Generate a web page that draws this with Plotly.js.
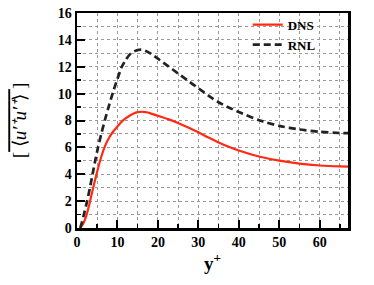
<!DOCTYPE html>
<html>
<head>
<meta charset="utf-8">
<script src="https://cdn.plot.ly/plotly-3.0.1.min.js"></script>
<style>html,body{margin:0;padding:0;background:#fff}#chart{width:374px;height:285px}</style>
</head>
<body>
<div id="chart"></div>
<script>
const dnsX = [0.8, 1.5, 2.3, 3, 4, 5, 6, 7, 8, 9, 10, 11, 12, 13, 14, 15, 16, 17, 18, 20, 22.5, 25, 27.5, 30, 32.5, 35, 37.5, 40, 45, 50, 55, 60, 65, 67];
const dnsY = [0, 0.3, 0.9, 1.7, 3.0, 4.2, 5.3, 6.15, 6.75, 7.2, 7.55, 7.9, 8.15, 8.35, 8.52, 8.62, 8.65, 8.62, 8.55, 8.35, 8.1, 7.82, 7.48, 7.12, 6.73, 6.37, 6.05, 5.77, 5.32, 5.01, 4.79, 4.65, 4.58, 4.57];
const rnlX = [0.8, 1.2, 1.7, 2.5, 3.2, 3.85, 4.5, 5.2, 6, 7, 8, 9, 10, 11, 12, 13, 14, 15, 16, 17, 18, 20, 22.5, 25, 27.5, 30, 32.5, 35, 37.5, 40, 45, 50, 55, 60, 65, 67];
const rnlY = [0, 0.4, 1, 2, 3, 4, 5, 6, 7, 8.15, 9.2, 10.2, 11.1, 11.95, 12.5, 12.9, 13.12, 13.25, 13.27, 13.18, 13.02, 12.6, 12.05, 11.5, 10.95, 10.4, 9.85, 9.36, 8.97, 8.63, 8.02, 7.6, 7.33, 7.16, 7.07, 7.06];
const seriesNames = ['DNS', 'RNL'];
const xTicks = [0, 10, 20, 30, 40, 50, 60];
const yTicks = [0, 2, 4, 6, 8, 10, 12, 14, 16];

const serif = '"Liberation Serif", "Times New Roman", serif';
const data = [
  {x: dnsX, y: dnsY, name: '<b>' + seriesNames[0] + '</b>', mode: 'lines', line: {color: '#ff2a12', width: 2.2, shape: 'spline', smoothing: 0.6}},
  {x: rnlX, y: rnlY, name: '<b>' + seriesNames[1] + '</b>', mode: 'lines', line: {color: '#222222', width: 2.7, dash: '7px,4px', shape: 'spline', smoothing: 0.6}}
];
const minorCommon = {ticks: 'inside', ticklen: 4, tickwidth: 1.5, tickcolor: '#000', showgrid: true, gridcolor: '#999', griddash: 'dot', gridwidth: 1};
const axisCommon = {
  showline: true, linecolor: '#000', linewidth: 2.5, mirror: true,
  ticks: 'inside', ticklen: 8, tickwidth: 2, tickcolor: '#000',
  showgrid: true, gridcolor: '#999', griddash: 'dot', gridwidth: 1,
  zeroline: false,
  tickfont: {family: serif, size: 14, color: '#000'}
};
const layout = {
  width: 374, height: 285,
  margin: {l: 77, r: 26, t: 10, b: 57},
  paper_bgcolor: '#fff', plot_bgcolor: '#fff',
  font: {family: serif},
  showlegend: true,
  legend: {x: 0.63, y: 1.015, xanchor: 'left', yanchor: 'top', bgcolor: 'rgba(0,0,0,0)',
           font: {family: serif, size: 13, color: '#000'}, tracegroupgap: 0},
  xaxis: Object.assign({}, axisCommon, {
    range: [0, 67], tickvals: xTicks, ticktext: xTicks.map(v => '<b>' + v + '</b>'),
    minor: Object.assign({dtick: 5, tick0: 0}, minorCommon),
    title: {text: '<b>y<sup>+</sup></b>', font: {family: serif, size: 19, color: '#000'}, standoff: 6}
  }),
  yaxis: Object.assign({}, axisCommon, {
    range: [0, 16], tickvals: yTicks, ticktext: yTicks.map(v => '<b>' + v + '</b>'),
    minor: Object.assign({dtick: 1, tick0: 0}, minorCommon),
    title: {text: "[<span style='text-decoration:overline'> ⟨<i>u′⁺u′⁺</i>⟩ </span>]", font: {family: serif, size: 19, color: '#000'}, standoff: 26}
  })
};
Plotly.newPlot('chart', data, layout, {displayModeBar: false, staticPlot: true});
</script>
</body>
</html>
